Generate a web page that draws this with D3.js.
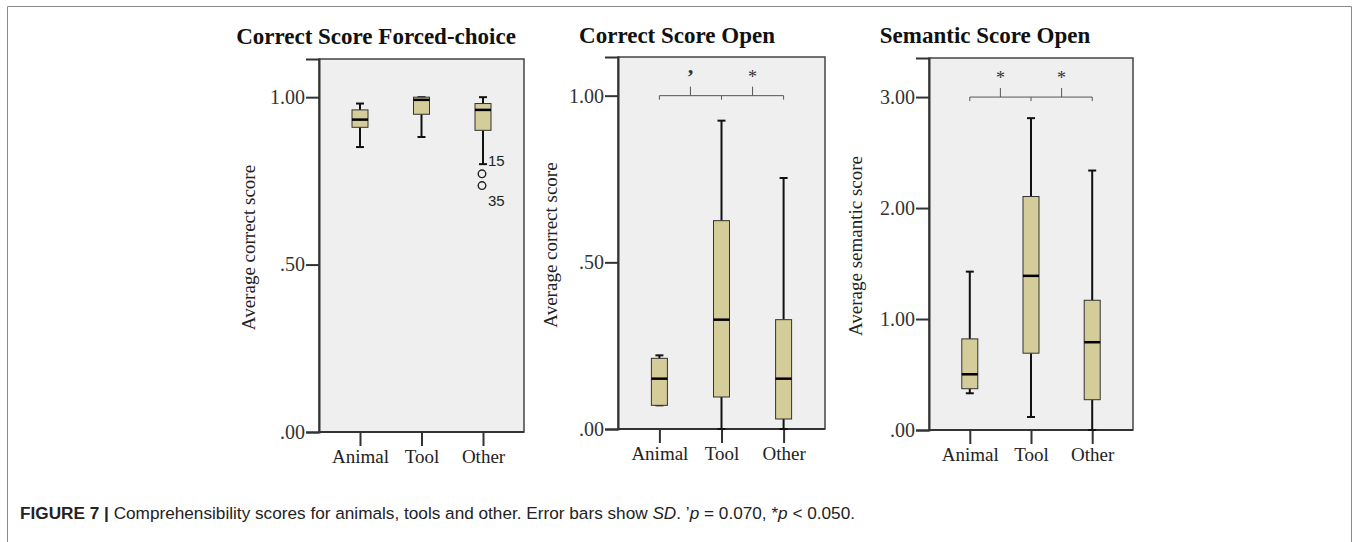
<!DOCTYPE html>
<html>
<head>
<meta charset="utf-8">
<script src="https://cdn.jsdelivr.net/npm/d3@7"></script>
<style>
  html, body { margin: 0; padding: 0; background: #fff; }
  svg { display: block; }
</style>
</head>
<body>
<svg id="chart" width="1357" height="542"></svg>
<script>
// ---------------- DATA ----------------
const categories = ["Animal", "Tool", "Other"];

// Panel 1: Correct Score Forced-choice
const fcWhiskerLow  = [0.851, 0.881, 0.800];
const fcQ1          = [0.910, 0.949, 0.901];
const fcMedian      = [0.933, 0.992, 0.962];
const fcQ3          = [0.962, 1.000, 0.981];
const fcWhiskerHigh = [0.981, 1.000, 1.000];
const fcOutlierCats   = ["Other", "Other"];
const fcOutlierValues = [0.771, 0.736];
const fcOutlierIds    = ["15", "35"];
const fcTicks      = [0, 0.5, 1.0];
const fcTickLabels = [".00", ".50", "1.00"];

// Panel 2: Correct Score Open
const coWhiskerLow  = [0.071, 0.000, 0.000];
const coQ1          = [0.071, 0.096, 0.030];
const coMedian      = [0.151, 0.328, 0.151];
const coQ3          = [0.212, 0.625, 0.328];
const coWhiskerHigh = [0.221, 0.925, 0.753];
const coTicks      = [0, 0.5, 1.0];
const coTickLabels = [".00", ".50", "1.00"];
const coBracketLevel = 1.0;
const coBracketMarks = ["\u2019", "*"];

// Panel 3: Semantic Score Open
const ssWhiskerLow  = [0.331, 0.117, 0.000];
const ssQ1          = [0.372, 0.692, 0.273];
const ssMedian      = [0.502, 1.389, 0.791];
const ssQ3          = [0.821, 2.104, 1.169];
const ssWhiskerHigh = [1.427, 2.810, 2.338];
const ssTicks      = [0, 1, 2, 3];
const ssTickLabels = [".00", "1.00", "2.00", "3.00"];
const ssBracketLevel = 3.0;
const ssBracketMarks = ["*", "*"];

const titles  = ["Correct Score Forced-choice", "Correct Score Open", "Semantic Score Open"];
const yLabels = ["Average correct score", "Average correct score", "Average semantic score"];

// ---------------- LAYOUT ----------------
const panels = [
  { left: 319, right: 524, top: 59, bottom: 432, yMax: 1.114, titleX: 376, titleY: 44, ylabX: 248,
    lo: fcWhiskerLow, q1: fcQ1, med: fcMedian, q3: fcQ3, hi: fcWhiskerHigh,
    ticks: fcTicks, tickLabels: fcTickLabels, bracket: null },
  { left: 618, right: 825, top: 57, bottom: 429, yMax: 1.116, titleX: 677, titleY: 43, ylabX: 550,
    lo: coWhiskerLow, q1: coQ1, med: coMedian, q3: coQ3, hi: coWhiskerHigh,
    ticks: coTicks, tickLabels: coTickLabels, bracket: { level: coBracketLevel, marks: coBracketMarks } },
  { left: 929, right: 1133, top: 58, bottom: 430, yMax: 3.352, titleX: 985, titleY: 43, ylabX: 855,
    lo: ssWhiskerLow, q1: ssQ1, med: ssMedian, q3: ssQ3, hi: ssWhiskerHigh,
    ticks: ssTicks, tickLabels: ssTickLabels, bracket: { level: ssBracketLevel, marks: ssBracketMarks } }
];

const serif = "'Liberation Serif', 'DejaVu Serif', serif";
const sans = "'Liberation Sans', Arial, sans-serif";
const boxFill = "#d4cc99";
const plotBg = "#efefef";

const svg = d3.select("#chart");

// Figure frame
svg.append("path")
  .attr("d", "M7.5,542 L7.5,6.5 L1351.5,6.5 L1351.5,542")
  .attr("fill", "none").attr("stroke", "#8a8a8a").attr("stroke-width", 1);

panels.forEach((p, pi) => {
  const g = svg.append("g");
  const x = d3.scalePoint().domain(categories).range([p.left, p.right]).padding(2 / 3);
  const y = d3.scaleLinear().domain([0, p.yMax]).range([p.bottom, p.top]);

  // title
  g.append("text").attr("x", p.titleX).attr("y", p.titleY)
    .attr("text-anchor", "middle")
    .style("font-family", serif).style("font-size", "23px").style("font-weight", "bold")
    .attr("fill", "#111").text(titles[pi]);

  // plot background
  g.append("rect").attr("x", p.left).attr("y", p.top)
    .attr("width", p.right - p.left).attr("height", p.bottom - p.top)
    .attr("fill", plotBg).attr("stroke", "#444").attr("stroke-width", 1.5);

  // y axis
  const yAxis = d3.axisLeft(y).tickValues(p.ticks)
    .tickFormat((d, i) => p.tickLabels[i]).tickSize(13).tickPadding(1);
  const ya = g.append("g").attr("transform", `translate(${p.left},0)`).call(yAxis);
  ya.select(".domain").attr("stroke", "#333").attr("stroke-width", 2);
  ya.selectAll(".tick line").attr("stroke", "#333").attr("stroke-width", 2);
  ya.selectAll(".tick text").style("font-family", serif).style("font-size", "20px").attr("fill", "#333");

  // x axis
  const xAxis = d3.axisBottom(x).tickSize(14).tickPadding(4);
  const xa = g.append("g").attr("transform", `translate(0,${p.bottom})`).call(xAxis);
  xa.select(".domain").attr("stroke", "#333").attr("stroke-width", 2)
    .attr("d", `M${p.left},0H${p.right}`);
  xa.selectAll(".tick line").attr("stroke", "#333").attr("stroke-width", 2);
  xa.selectAll(".tick text").style("font-family", serif).style("font-size", "19px").attr("fill", "#222");

  // y label
  g.append("text")
    .attr("transform", `translate(${p.ylabX},${(p.top + p.bottom) / 2 + 2}) rotate(-90)`)
    .attr("text-anchor", "middle").attr("dy", "0.35em")
    .style("font-family", serif).style("font-size", "19px").attr("fill", "#222")
    .text(yLabels[pi]);

  // boxes
  const boxW = 16, capW = 8;
  categories.forEach((c, i) => {
    const cx = x(c);
    g.append("line").attr("x1", cx).attr("x2", cx).attr("y1", y(p.lo[i])).attr("y2", y(p.q1[i]))
      .attr("stroke", "#111").attr("stroke-width", 2);
    g.append("line").attr("x1", cx).attr("x2", cx).attr("y1", y(p.q3[i])).attr("y2", y(p.hi[i]))
      .attr("stroke", "#111").attr("stroke-width", 2);
    [p.lo[i], p.hi[i]].forEach(v => {
      g.append("line").attr("x1", cx - capW / 2).attr("x2", cx + capW / 2)
        .attr("y1", y(v)).attr("y2", y(v)).attr("stroke", "#111").attr("stroke-width", 2);
    });
    g.append("rect").attr("x", cx - boxW / 2).attr("y", y(p.q3[i]))
      .attr("width", boxW).attr("height", Math.max(1, y(p.q1[i]) - y(p.q3[i])))
      .attr("fill", boxFill).attr("stroke", "#333").attr("stroke-width", 1);
    g.append("line").attr("x1", cx - boxW / 2).attr("x2", cx + boxW / 2)
      .attr("y1", y(p.med[i])).attr("y2", y(p.med[i]))
      .attr("stroke", "#000").attr("stroke-width", 2.5);
  });

  // outliers (panel 1 only)
  if (pi === 0) {
    fcOutlierValues.forEach((v, k) => {
      const cx = x(fcOutlierCats[k]);
      g.append("circle").attr("cx", cx - 1).attr("cy", y(v)).attr("r", 3.8)
        .attr("fill", "none").attr("stroke", "#222").attr("stroke-width", 1.4);
      const above = k % 2 === 0;
      g.append("text").attr("x", cx + 5).attr("y", y(v) + (above ? -8 : 20))
        .style("font-family", sans).style("font-size", "15px").attr("fill", "#222")
        .text(fcOutlierIds[k]);
    });
  }

  // significance brackets
  if (p.bracket) {
    const by = y(p.bracket.level);
    const xs = categories.map(c => x(c));
    const bg = g.append("g").attr("stroke", "#555").attr("stroke-width", 1).attr("fill", "none");
    bg.append("path")
      .attr("d", `M${xs[0]},${by + 4}V${by}H${xs[2]}V${by + 4}M${xs[1]},${by}V${by + 4}`);
    [0, 1].forEach(j => {
      const mx = (xs[j] + xs[j + 1]) / 2;
      bg.append("line").attr("x1", mx).attr("x2", mx).attr("y1", by).attr("y2", by - 9);
      const isQuote = p.bracket.marks[j] !== "*";
      g.append("text").attr("x", mx).attr("y", by - (isQuote ? 12 : 13))
        .attr("text-anchor", "middle")
        .style("font-family", serif).style("font-size", isQuote ? "22px" : "18px")
        .style("font-weight", isQuote ? "bold" : "normal")
        .attr("fill", "#333").text(p.bracket.marks[j]);
    });
  }
});

// caption
const cap = svg.append("text").attr("x", 20).attr("y", 519)
  .style("font-family", sans).style("font-size", "17.2px").attr("fill", "#222");
cap.append("tspan").style("font-weight", "bold").text("FIGURE 7 | ");
cap.append("tspan").text("Comprehensibility scores for animals, tools and other. Error bars show ");
cap.append("tspan").style("font-style", "italic").text("SD");
cap.append("tspan").text(". \u2019");
cap.append("tspan").style("font-style", "italic").text("p");
cap.append("tspan").text(" = 0.070, *");
cap.append("tspan").style("font-style", "italic").text("p");
cap.append("tspan").text(" < 0.050.");
</script>
</body>
</html>
